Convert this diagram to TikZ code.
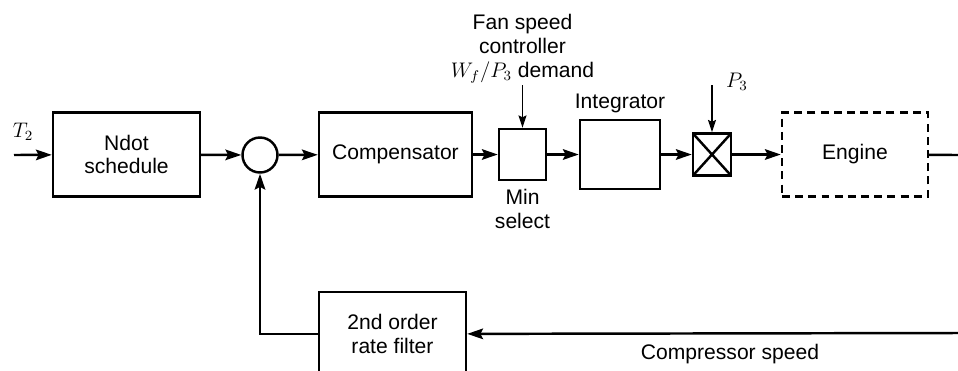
\documentclass[tikz,border=0pt]{standalone}
\usepackage{fontspec}
\setmainfont{Liberation Sans}
\usetikzlibrary{arrows.meta}
\begin{document}
\begin{tikzpicture}[x=0.02cm,y=-0.02cm,
  font=\fontsize{12}{13.6}\selectfont,
  blk/.style={draw,line width=1.4pt,align=center,inner sep=0pt},
  sig/.style={line width=1.4pt,-{Stealth[length=9pt,width=6pt,inset=1.5pt]}},
  thinsig/.style={line width=0.7pt,-{Stealth[length=7pt,width=4.5pt,inset=1pt]}}]
  \useasboundingbox (0,0) rectangle (958,370);
  \clip (0,0) rectangle (958,370);
  % forward path
  \node[blk,minimum width=2.94cm,minimum height=1.68cm] (ndot) at (126.5,154.5) {Ndot\\schedule};
  \node[draw,circle,line width=1.4pt,minimum size=0.7cm,inner sep=0pt] (sum) at (260,155) {};
  \node[blk,minimum width=3.06cm,minimum height=1.68cm] (comp) at (395.5,154.5) {Compensator};
  \node[blk,minimum width=0.94cm,minimum height=1.02cm] (min) at (522.5,154.5) {};
  \node[blk,minimum width=1.6cm,minimum height=1.38cm] (integ) at (620,154.5) {};
  \node[blk,minimum width=0.76cm,minimum height=0.84cm,
    path picture={\draw[line width=1.4pt] (path picture bounding box.north west) -- (path picture bounding box.south east)
      (path picture bounding box.north east) -- (path picture bounding box.south west);}] (mult) at (712,154.5) {};
  \node[blk,dashed,dash pattern=on 4.5pt off 3pt,minimum width=2.92cm,minimum height=1.68cm] (eng) at (855,154.5) {Engine};
  % feedback path
  \node[blk,minimum width=2.94cm,minimum height=1.68cm] (filt) at (392.5,334) {2nd order\\rate filter};
  % labels
  \node (fan) at (522.5,49) [align=center] {Fan speed\\controller\\$W_f/P_3$ demand};
  \node (minlbl) at (522.5,209) [align=center] {Min\\select};
  \node (intlbl) at (620,103) {Integrator};
  \node (p3) at (737,82) {\large $P_3$};
  \node (t2) at (23,132) {\large $T_2$};
  \node (cspd) at (730,354) {Compressor speed};
  \coordinate (in) at (14,155);
  \coordinate (out) at (958,155);
  \coordinate (fb) at (958,333);
  \coordinate (p3in) at (712,85);
  \coordinate (fanin) at (522.5,85);
  % connections
  \draw[sig] (in) -- (ndot);
  \draw[sig] (ndot) -- (sum);
  \draw[sig] (sum) -- (comp);
  \draw[sig] (comp) -- (min);
  \draw[sig] (min) -- (integ);
  \draw[sig] (integ) -- (mult);
  \draw[sig] (mult) -- (eng);
  \draw[line width=1.4pt] (eng) -- (out);
  \draw[sig] (fb) -- (filt);
  \draw[sig] (filt.west) -| (sum.south);
  \draw[thinsig] (fanin) -- (min.north);
  \draw[thinsig] (p3in) -- (mult.north);
\end{tikzpicture}
\end{document}
